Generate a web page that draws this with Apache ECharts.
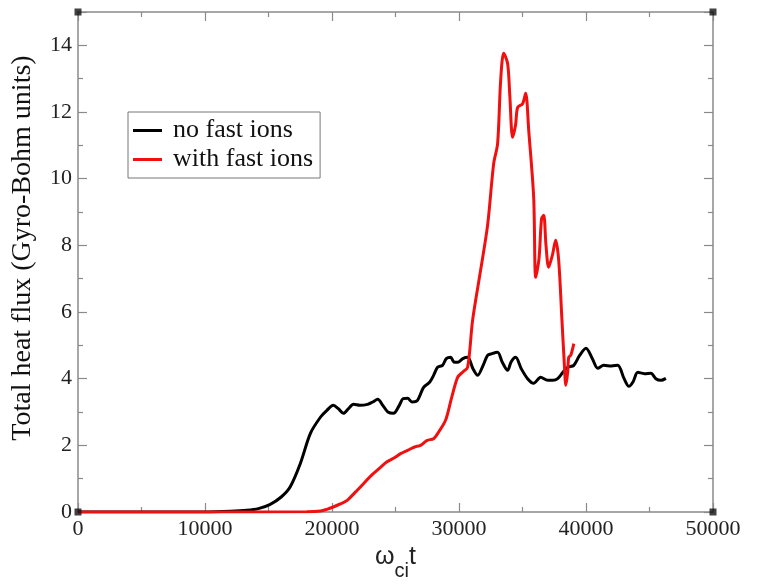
<!DOCTYPE html>
<html><head><meta charset="utf-8">
<script src="https://cdn.jsdelivr.net/npm/echarts@6/dist/echarts.min.js"></script>
<style>html,body{margin:0;padding:0;background:#fff}#c{width:768px;height:584px}</style>
</head><body><div id="c"></div>
<script>
const seriesNames = ["no fast ions", "with fast ions"];
const xTicks = [0, 10000, 20000, 30000, 40000, 50000];
const yTicks = [0, 2, 4, 6, 8, 10, 12, 14];
const noFastIons = [[0,0],[5000,0],[10000,0],[12000,0.02],[13300,0.05],[14200,0.1],[15100,0.22],[16000,0.45],[16700,0.75],[17500,1.45],[18300,2.36],[19100,2.85],[19600,3.05],[20100,3.2],[20500,3.1],[20900,2.96],[21300,3.1],[21700,3.23],[22200,3.2],[22800,3.23],[23200,3.3],[23600,3.38],[24000,3.2],[24400,3.0],[24840,2.96],[25300,3.2],[25600,3.4],[25950,3.41],[26300,3.3],[26730,3.35],[27210,3.74],[27700,3.9],[28000,4.1],[28310,4.34],[28700,4.4],[29000,4.6],[29340,4.64],[29600,4.5],[29890,4.49],[30300,4.6],[30680,4.64],[31100,4.3],[31470,4.1],[31900,4.4],[32250,4.7],[32600,4.75],[33040,4.79],[33400,4.5],[33830,4.25],[34100,4.5],[34460,4.64],[34900,4.3],[35400,4.0],[35880,3.86],[36430,4.04],[36980,3.95],[37400,3.95],[37770,4.0],[38200,4.2],[38560,4.34],[39040,4.4],[39500,4.7],[40000,4.91],[40500,4.6],[40930,4.31],[41400,4.4],[42000,4.38],[42500,4.4],[43000,4.0],[43380,3.77],[43700,3.9],[44080,4.19],[44600,4.15],[45110,4.16],[45500,4.0],[45900,3.95],[46290,4.01]];
const withFastIons = [[0,0],[10000,0],[18000,0.01],[19100,0.03],[19600,0.08],[20100,0.15],[20700,0.25],[21200,0.35],[21800,0.58],[22480,0.85],[23100,1.1],[23820,1.34],[24300,1.5],[24840,1.61],[25400,1.75],[25950,1.85],[26500,1.95],[26970,2.0],[27500,2.15],[28000,2.2],[28400,2.4],[28940,2.75],[29400,3.4],[29890,4.04],[30300,4.2],[30680,4.34],[31070,5.75],[31700,7.25],[32250,8.6],[32730,10.45],[33040,11.05],[33280,12.95],[33520,13.76],[33830,13.45],[34000,12.5],[34220,11.24],[34450,11.6],[34620,12.14],[35010,12.25],[35250,12.56],[35490,11.45],[35880,9.44],[36040,7.04],[36300,7.6],[36500,8.8],[36670,8.9],[36850,8.0],[37060,7.34],[37350,7.7],[37610,8.15],[37850,7.55],[38100,5.8],[38300,4.4],[38410,3.8],[38560,4.2],[38640,4.64],[38800,4.7],[39040,5.05]];
const corners = [[0,0],[50000,0],[0,15],[50000,15]];

const serif = '"Liberation Serif","DejaVu Serif",serif';
const sans = '"Liberation Sans","DejaVu Sans",sans-serif';
const axisColor = '#8a8a8a';
const chart = echarts.init(document.getElementById('c'));
function baseAxis(max, interval) {
  return {
    type: 'value', min: 0, max: max, interval: interval,
    axisLine: {show: true, onZero: false, lineStyle: {color: axisColor, width: 1.5}},
    axisTick: {show: true, inside: true, length: 9, lineStyle: {color: axisColor, width: 1.2}},
    minorTick: {show: true, splitNumber: 2, length: 5, lineStyle: {color: axisColor, width: 1.2}},
    splitLine: {show: false}
  };
}
chart.setOption({
  animation: false,
  backgroundColor: '#fff',
  grid: {left: 78, right: 55, top: 12, bottom: 72, outerBoundsMode: 'none', containLabel: false},
  legend: {
    orient: 'vertical', left: 128, top: 112,
    data: seriesNames.map(n => ({name: n, icon: 'rect'})),
    borderColor: '#777', borderWidth: 1, borderRadius: 0,
    padding: [5, 7, 5, 5], itemGap: 2,
    itemWidth: 29, itemHeight: 3,
    textStyle: {fontFamily: serif, fontSize: 26, color: '#111', lineHeight: 27, padding: [0, 0, 0, 6]}
  },
  xAxis: [
    Object.assign(baseAxis(50000, 10000), {
      position: 'bottom',
      axisLabel: {fontFamily: serif, fontSize: 22, color: '#222', margin: 6,
        formatter: v => xTicks.includes(v) ? String(v) : ''},
      name: '{s| }{a|ω}{b|ci}{a|t}', nameLocation: 'middle', nameGap: 26,
      nameTextStyle: {rich: {
        s: {fontSize: 1, lineHeight: 37, width: 0},
        a: {fontFamily: sans, fontSize: 25, lineHeight: 25, color: '#222', verticalAlign: 'top'},
        b: {fontFamily: sans, fontSize: 20, lineHeight: 20, color: '#222', verticalAlign: 'bottom'}
      }}
    }),
    Object.assign(baseAxis(50000, 10000), {position: 'top', axisLabel: {show: false}})
  ],
  yAxis: [
    Object.assign(baseAxis(15, 2), {
      position: 'left',
      axisLabel: {fontFamily: serif, fontSize: 22, color: '#222', margin: 6,
        formatter: v => yTicks.includes(v) ? String(v) : ''},
      name: 'Total heat flux (Gyro-Bohm units)', nameLocation: 'middle', nameGap: 41,
      nameTextStyle: {fontFamily: serif, fontSize: 28, color: '#111', padding: [0, 0, 0, 28]}
    }),
    Object.assign(baseAxis(15, 2), {position: 'right', axisLabel: {show: false}})
  ],
  series: [
    {name: seriesNames[0], type: 'line', data: noFastIons, showSymbol: false, symbol: 'none',
     smooth: 0.3, lineStyle: {color: '#000', width: 3}, itemStyle: {color: '#000'}, z: 3},
    {name: seriesNames[1], type: 'line', data: withFastIons, showSymbol: false, symbol: 'none',
     smooth: 0.3, lineStyle: {color: '#f01010', width: 3}, itemStyle: {color: '#f01010'}, z: 4},
    {type: 'scatter', data: corners, symbol: 'rect', symbolSize: 7, silent: true,
     itemStyle: {color: '#111'}, z: 5}
  ]
});
</script></body></html>
